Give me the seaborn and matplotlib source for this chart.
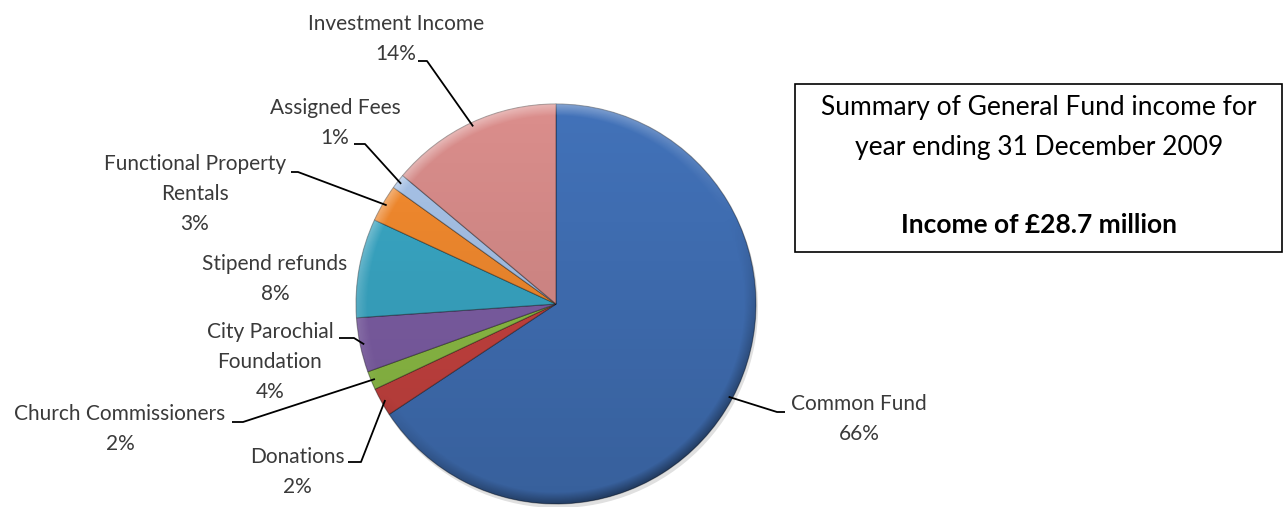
import numpy as np
import matplotlib.pyplot as plt
import seaborn as sns
from matplotlib.patches import Rectangle, Circle

# data (clockwise from 12 o'clock)
sources = ['Common Fund', 'Donations', 'Church Commissioners', 'City Parochial\nFoundation',
           'Stipend refunds', 'Functional Property\nRentals', 'Assigned Fees', 'Investment Income']
shares = [65.7, 2.3, 1.5, 4.4, 8.0, 3.0, 1.2, 13.9]
summary_lines = ['Summary of General Fund income for', 'year ending 31 December 2009']
income_text = 'Income of £28.7 million'

slice_colors = ['#4272B9', '#CB4441', '#90C147', '#8060A8', '#3AA9C7', '#F68C2F', '#A9C5EB', '#DB8E8C']

sns.set_theme(style='white')
plt.rcParams['font.family'] = ['Lato', 'DejaVu Sans']

fig = plt.figure(figsize=(12.88, 5.07), dpi=100)
ax = fig.add_axes([0, 0, 1, 1])

# pie in pixel-like coordinates (y down)
cx, cy, r = 556, 304, 200
ax.add_patch(Circle((cx + 2, cy + 4), r, color='#000000', alpha=0.12, lw=0, zorder=0))
wedges, _ = ax.pie(shares, colors=slice_colors, startangle=-90, counterclock=True,
                   center=(cx, cy), radius=r, frame=True,
                   wedgeprops=dict(linewidth=0.8, edgecolor=(0, 0, 0, 0.35)))

# soft bevel look: darker towards the bottom, light/dark rim
yy, xx = np.mgrid[-r:r, -r:r] + 0.5
dist = np.hypot(xx, yy)
rim = np.clip((dist - (r - 12)) / 12, 0, 1)
facing = -(0.45 * xx + 0.9 * yy) / np.maximum(dist, 1)
dark = np.zeros((2 * r, 2 * r, 4))
dark[..., 3] = 0.16 * (yy + r) / (2 * r) + 0.35 * rim * np.clip(-facing, 0, 1)
light = np.ones((2 * r, 2 * r, 4))
light[..., 3] = 0.40 * rim * np.clip(facing, 0, 1)
clip = Circle((cx, cy), r, transform=ax.transData)
for layer in (dark, light):
    im = ax.imshow(layer, extent=(cx - r, cx + r, cy + r, cy - r), origin='upper',
                   interpolation='bilinear', zorder=2)
    im.set_clip_path(clip)

ax.set_xlim(0, 1288)
ax.set_ylim(507, 0)
ax.set_aspect('auto')
ax.axis('off')

# label placement (text centre) and leader hooks next to the text
label_pos = [(859, 419), (297, 472), (120, 429), (270, 362),
             (275, 279), (195, 194), (335, 123), (396, 39)]
label_hooks = [((785, 412), (777, 412)), ((348, 462), (361, 462)), ((232, 422), (243, 422)),
               ((339, 338), (354, 338)), None, ((291, 172), (298, 172)),
               ((354, 144), (365, 144)), ((418, 61), (427, 61))]

total = sum(shares)
for w, name, val, pos, hook in zip(wedges, sources, shares, label_pos, label_hooks):
    pct = round(val / total * 100)
    ax.text(pos[0], pos[1], f'{name}\n{pct}%', ha='center', va='center',
            fontsize=15, color='#3a3a3a', linespacing=1.6)
    if hook is None:
        continue
    mid = np.deg2rad((w.theta1 + w.theta2) / 2)
    px = cx + r * 0.98 * np.cos(mid)
    py = cy + r * 0.98 * np.sin(mid)
    ax.plot([hook[0][0], hook[1][0], px], [hook[0][1], hook[1][1], py],
            color='black', lw=1.3, solid_capstyle='butt', zorder=3)

# summary box
ax.add_patch(Rectangle((795, 84), 487, 168, fill=False, edgecolor='black', lw=1.2))
ax.text(1039, 108, summary_lines[0], ha='center', va='center', fontsize=19, color='black')
ax.text(1039, 148, summary_lines[1], ha='center', va='center', fontsize=19, color='black')
ax.text(1039, 225, income_text, ha='center', va='center', fontsize=19, fontweight='bold', color='black')

fig.savefig('out.png', dpi=100)
